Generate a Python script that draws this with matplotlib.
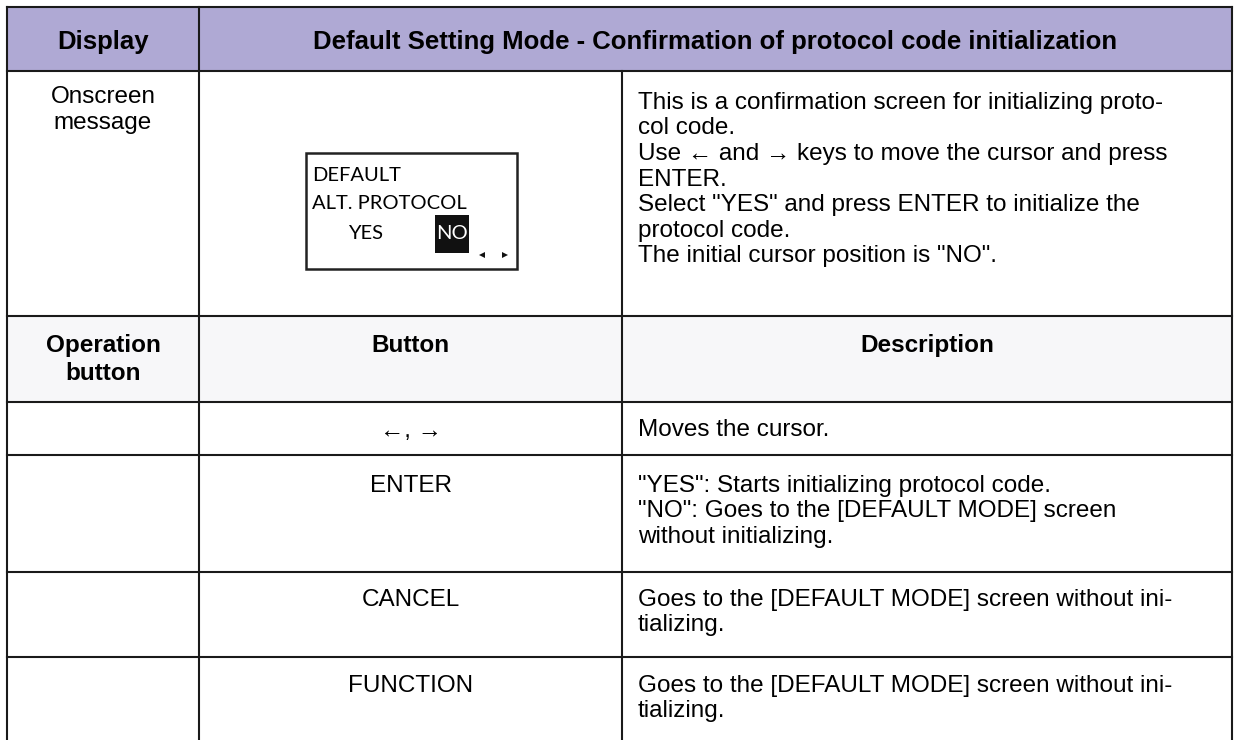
import matplotlib
matplotlib.use("Agg")
import matplotlib.pyplot as plt
from matplotlib.patches import Rectangle

# table content
header = ["Display", "Default Setting Mode - Confirmation of protocol code initialization"]
screen_label = ["Onscreen", "message"]
lcd_lines = ["DEFAULT", "ALT. PROTOCOL"]
lcd_choices = ["YES", "NO"]
screen_desc = [
    "This is a confirmation screen for initializing proto-",
    "col code.",
    "Use \u2190 and \u2192 keys to move the cursor and press",
    "ENTER.",
    "Select \"YES\" and press ENTER to initialize the",
    "protocol code.",
    "The initial cursor position is \"NO\".",
]
op_header = ["Operation", "button", "Button", "Description"]
buttons = ["\u2190, \u2192", "ENTER", "CANCEL", "FUNCTION"]
button_desc = [
    ["Moves the cursor."],
    ["\"YES\": Starts initializing protocol code.",
     "\"NO\": Goes to the [DEFAULT MODE] screen",
     "without initializing."],
    ["Goes to the [DEFAULT MODE] screen without ini-",
     "tializing."],
    ["Goes to the [DEFAULT MODE] screen without ini-",
     "tializing."],
]

# layout in pixels
W, H = 1234, 740
col_x = [7, 199, 622, 1232]
row_y = [7, 71, 316, 402, 455, 572, 657, 742]
header_bg = "#afa9d4"
op_bg = "#f7f7f9"
line_c = "#1a1a1a"
fam = ["Liberation Sans", "DejaVu Sans"]
fs = 17.5
hfs = 18.5
lh = 25.5

fig = plt.figure(figsize=(W / 100, H / 100), dpi=100)
ax = fig.add_axes([0, 0, 1, 1])
ax.set_xlim(0, W)
ax.set_ylim(H, 0)
ax.axis("off")

# backgrounds
ax.add_patch(Rectangle((col_x[0], row_y[0]), col_x[3] - col_x[0], row_y[1] - row_y[0],
                       facecolor=header_bg, edgecolor="none"))
ax.add_patch(Rectangle((col_x[0], row_y[2]), col_x[3] - col_x[0], row_y[3] - row_y[2],
                       facecolor=op_bg, edgecolor="none"))

# grid lines
lw = 1.5
for y in row_y:
    ax.plot([col_x[0], col_x[3]], [y, y], color=line_c, lw=lw, solid_capstyle="projecting")
for i, x in enumerate(col_x):
    y0 = row_y[1] if i == 2 else row_y[0]
    ax.plot([x, x], [y0, row_y[-1]], color=line_c, lw=lw)


def cx(i, j=None):
    j = i if j is None else j
    return (col_x[i] + col_x[j + 1]) / 2


# header row
ym = (row_y[0] + row_y[1]) / 2
ax.text(cx(0), ym, header[0], ha="center", va="center_baseline", fontsize=hfs,
        fontweight="bold", family=fam)
ax.text(cx(1, 2), ym, header[1], ha="center", va="center_baseline", fontsize=hfs,
        fontweight="bold", family=fam)

# onscreen message row
for k, line in enumerate(screen_label):
    ax.text(cx(0), row_y[1] + 32 + k * lh, line, ha="center", va="baseline",
            fontsize=fs, family=fam)
pad_x = col_x[2] + 16
for k, line in enumerate(screen_desc):
    ax.text(pad_x, row_y[1] + 38 + k * lh, line, ha="left", va="baseline",
            fontsize=fs, family=fam)

# LCD mock screen
bx0, by0, bx1, by1 = 306, 153, 517, 269
ax.add_patch(Rectangle((bx0, by0), bx1 - bx0, by1 - by0, facecolor="white",
                       edgecolor="#222222", lw=1.8))
lfam = ["Lato", "DejaVu Sans"]
lfs = 14.5
ax.text(bx0 + 6, by0 + 28, lcd_lines[0], ha="left", va="baseline", fontsize=lfs, family=lfam)
ax.text(bx0 + 6, by0 + 56, lcd_lines[1], ha="left", va="baseline", fontsize=lfs, family=lfam)
ax.text(bx0 + 42, by0 + 86, lcd_choices[0], ha="left", va="baseline", fontsize=lfs, family=lfam)
ax.add_patch(Rectangle((435, 215), 34, 38, facecolor="#111111", edgecolor="none"))
ax.text(452, by0 + 86, lcd_choices[1], ha="center", va="baseline", fontsize=lfs,
        family=lfam, color="white")
ax.plot([482], [255], marker="<", color="#111111", ms=4, mew=0)
ax.plot([505], [255], marker=">", color="#111111", ms=4, mew=0)

# operation header row
hb = row_y[2] + 36
ax.text(cx(0), hb, op_header[0], ha="center", va="baseline", fontsize=fs,
        fontweight="bold", family=fam)
ax.text(cx(0), hb + lh + 2, op_header[1], ha="center", va="baseline", fontsize=fs,
        fontweight="bold", family=fam)
ax.text(cx(1), hb, op_header[2], ha="center", va="baseline", fontsize=fs,
        fontweight="bold", family=fam)
ax.text(cx(2), hb, op_header[3], ha="center", va="baseline", fontsize=fs,
        fontweight="bold", family=fam)

# button rows
first_offsets = [None, 37, 34, 35]
for r, (btn, desc) in enumerate(zip(buttons, button_desc)):
    top = row_y[3 + r]
    bot = row_y[4 + r]
    if first_offsets[r] is None:
        base = (top + bot) / 2 + 8
    else:
        base = top + first_offsets[r]
    ax.text(cx(1), base, btn, ha="center", va="baseline", fontsize=fs, family=fam)
    for k, line in enumerate(desc):
        ax.text(pad_x, base + k * lh, line, ha="left", va="baseline", fontsize=fs, family=fam)

fig.savefig("out.png", dpi=100)
